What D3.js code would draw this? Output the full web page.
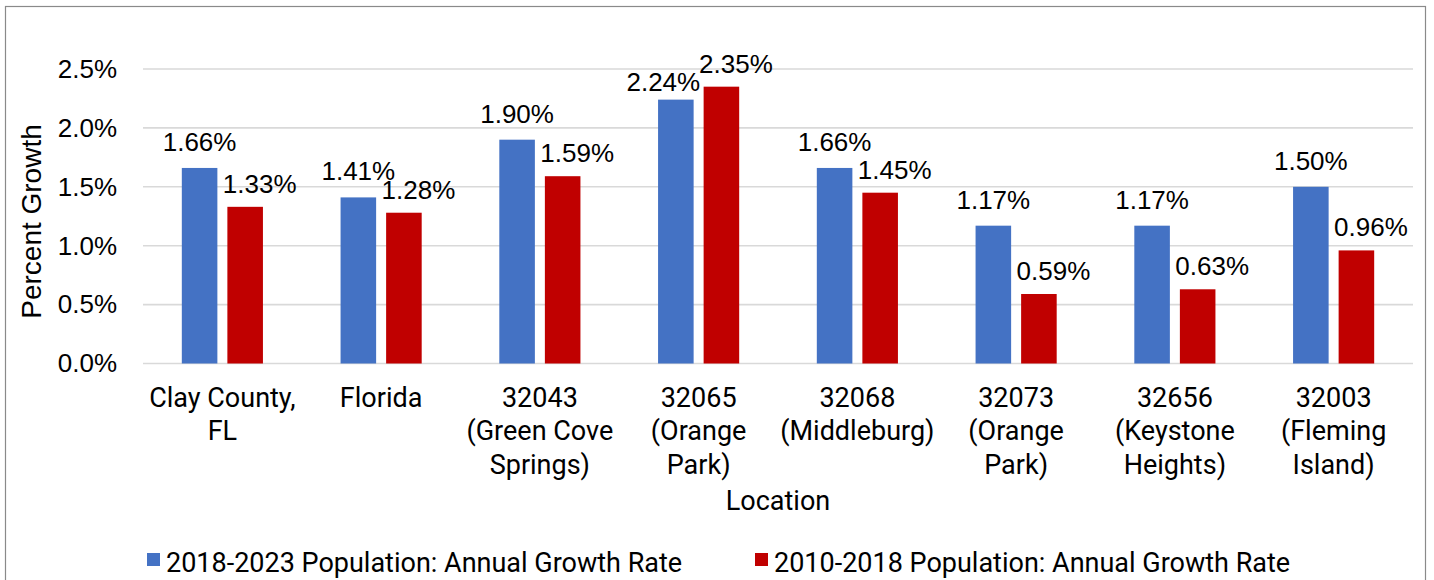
<!DOCTYPE html>
<html>
<head>
<meta charset="utf-8">
<script src="https://cdn.jsdelivr.net/npm/d3@7"></script>
<style>
  body { margin: 0; background: #fff; }
  svg { display: block; }
</style>
</head>
<body>
<script>
// chart values
var locations = [
  ["Clay County,", "FL"],
  ["Florida"],
  ["32043", "(Green Cove", "Springs)"],
  ["32065", "(Orange", "Park)"],
  ["32068", "(Middleburg)"],
  ["32073", "(Orange", "Park)"],
  ["32656", "(Keystone", "Heights)"],
  ["32003", "(Fleming", "Island)"]
]
var growth2018to2023 = [1.66, 1.41, 1.90, 2.24, 1.66, 1.17, 1.17, 1.50]
var growth2010to2018 = [1.33, 1.28, 1.59, 2.35, 1.45, 0.59, 0.63, 0.96]
var seriesNames = ["2018-2023 Population: Annual Growth Rate", "2010-2018 Population: Annual Growth Rate"]
var yTicks = [0, 0.5, 1.0, 1.5, 2.0, 2.5]

var drawChart = function() {
  var width = 1434
  var height = 580
  var left = 143, right = 1413, top = 69, bottom = 363.5
  var colors = ["#4472C4", "#C00000"]

  var svg = d3.select("body")
              .append("svg")
              .attr("width", width)
              .attr("height", height)

  // outer frame
  svg.append("rect")
     .attr("x", 5.5).attr("y", 6.5)
     .attr("width", 1420).attr("height", 600)
     .attr("fill", "white")
     .attr("stroke", "#8a8a8a")
     .attr("stroke-width", 1.2)

  var xScale = d3.scaleBand()
                 .domain(d3.range(locations.length))
                 .range([left, right])

  var yScale = d3.scaleLinear()
                 .domain([0, 2.5])
                 .range([bottom, top])

  var bw = xScale.bandwidth()
  var barW = bw * 0.224
  var gap = bw * 0.063

  // gridlines
  svg.selectAll(".grid")
     .data(yTicks)
     .enter()
     .append("line")
     .attr("x1", left).attr("x2", right)
     .attr("y1", function(d) { return yScale(d) })
     .attr("y2", function(d) { return yScale(d) })
     .attr("stroke", "#d9d9d9")
     .attr("stroke-width", 1.6)

  // y axis labels
  var yAxis = d3.axisLeft(yScale)
                .tickValues(yTicks)
                .tickSize(0)
                .tickPadding(26)
                .tickFormat(function(d) { return d.toFixed(1) + "%" })
  var gy = svg.append("g")
              .attr("transform", "translate(" + left + ",0)")
              .call(yAxis)
  gy.select(".domain").remove()
  gy.selectAll("text")
    .attr("font-family", "'Liberation Sans', Arial, sans-serif")
    .attr("font-size", 26)
    .attr("fill", "#000")

  var series = [growth2018to2023, growth2010to2018]
  var labels = []

  series.forEach(function(vals, s) {
    var xOf = function(i) {
      var c = xScale(i) + bw / 2
      return s == 0 ? c - gap / 2 - barW : c + gap / 2
    }
    svg.selectAll(".bar" + s)
       .data(vals)
       .enter()
       .append("rect")
       .attr("x", function(d, i) { return xOf(i) })
       .attr("y", function(d) { return yScale(d) })
       .attr("width", barW)
       .attr("height", function(d) { return yScale(0) - yScale(d) })
       .attr("fill", colors[s])

    labels[s] = svg.selectAll(".lab" + s)
       .data(vals)
       .enter()
       .append("text")
       .attr("x", function(d, i) { return xOf(i) + barW / 2 + (s == 0 ? 0 : 14.5) })
       .attr("y", function(d) { return yScale(d) - (s == 0 ? 17 : 14) })
       .attr("text-anchor", "middle")
       .attr("font-family", "'Liberation Sans', Arial, sans-serif")
       .attr("font-size", 26)
       .attr("fill", "#000")
       .text(function(d) { return d.toFixed(2) + "%" })
  })

  // nudge a blue label whose digits collide with its red neighbour (2.24% / 2.35%)
  var redNodes = labels[1].nodes()
  labels[0].each(function(d, i) {
    var a = this.getBBox(), b = redNodes[i].getBBox()
    var ya = +d3.select(this).attr("y"), yb = +d3.select(redNodes[i]).attr("y")
    var hit = a.x + a.width > b.x && a.x < b.x + b.width && Math.abs(ya - yb) < 14
    if (hit) {
      d3.select(this)
        .attr("x", +d3.select(this).attr("x") - 12.5)
        .attr("y", yScale(d) - 9)
    }
  })

  // category labels
  var cats = svg.selectAll(".cat")
                .data(locations)
                .enter()
                .append("text")
                .attr("text-anchor", "middle")
                .attr("font-family", "Roboto, sans-serif")
                .attr("font-size", 27)
                .attr("fill", "#000")
  cats.each(function(lines, i) {
    d3.select(this).selectAll("tspan")
      .data(lines)
      .enter()
      .append("tspan")
      .attr("x", xScale(i) + bw / 2)
      .attr("y", function(d, j) { return 406.5 + j * 33.8 })
      .text(function(d) { return d })
  })

  // axis titles
  svg.append("text")
     .attr("x", (left + right) / 2)
     .attr("y", 510)
     .attr("text-anchor", "middle")
     .attr("font-family", "Roboto, sans-serif")
     .attr("font-size", 27)
     .text("Location")

  svg.append("text")
     .attr("transform", "translate(41,221.5) rotate(-90)")
     .attr("text-anchor", "middle")
     .attr("font-family", "'Liberation Sans', Arial, sans-serif")
     .attr("font-size", 28)
     .text("Percent Growth")

  // legend
  var legX = [147, 755]
  var leg = svg.selectAll(".leg")
               .data(seriesNames)
               .enter()
               .append("g")
               .attr("transform", function(d, i) { return "translate(" + legX[i] + ",0)" })
  leg.append("rect")
     .attr("x", 0).attr("y", 553)
     .attr("width", 13).attr("height", 13)
     .attr("fill", function(d, i) { return colors[i] })
  leg.append("text")
     .attr("x", 19)
     .attr("y", 572)
     .attr("font-family", "Roboto, sans-serif")
     .attr("font-size", 27)
     .text(function(d) { return d })
}

drawChart()
</script>
</body>
</html>
